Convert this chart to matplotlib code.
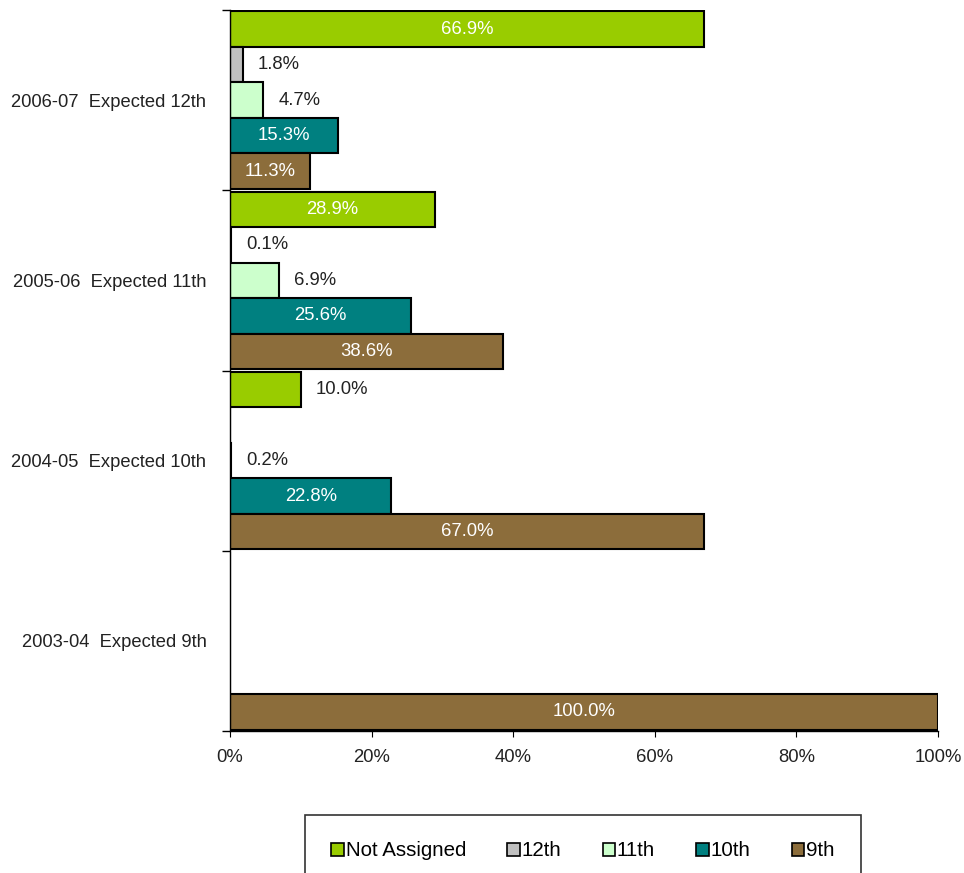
import matplotlib.pyplot as plt
import numpy as np
from matplotlib.patches import Patch
from matplotlib.ticker import FuncFormatter

plt.rcParams['font.family'] = ['Liberation Sans', 'DejaVu Sans']

categories = ['2003-04  Expected 9th', '2004-05  Expected 10th',
              '2005-06  Expected 11th', '2006-07  Expected 12th']
series_names = ['Not Assigned', '12th', '11th', '10th', '9th']
not_assigned = [0, 10.0, 28.9, 66.9]
g12 = [0, 0, 0.1, 1.8]
g11 = [0, 0.2, 6.9, 4.7]
g10 = [0, 22.8, 25.6, 15.3]
g9 = [100.0, 67.0, 38.6, 11.3]
colors = ['#99CC00', '#C0C0C0', '#CCFFCC', '#008080', '#8C6D3B']

series = [not_assigned, g12, g11, g10, g9]

fig = plt.figure(figsize=(9.64, 8.73), dpi=100)
ax = fig.add_axes([230/964, 1-731/873, 708/964, 721/873])

y = np.arange(len(categories))
h = 0.197
# top bar is Not Assigned, bottom is 9th
offsets = [2*h, h, 0, -h, -2*h]

for vals, name, col, off in zip(series, series_names, colors, offsets):
    bars = ax.barh(y + off, vals, height=h, color=col, edgecolor='black',
                   linewidth=1.5, label=name)
    for yy, v in zip(y + off, vals):
        if v == 0:
            continue
        if v > 10.5:
            ax.text(v/2, yy, '%.1f%%' % v, ha='center', va='center',
                    color='white', fontsize=13.3)
        else:
            ax.annotate('%.1f%%' % v, (v, yy), xytext=(11, 0),
                        textcoords='offset points', ha='left', va='center',
                        color='#222222', fontsize=13.3)

ax.set_xlim(0, 100)
ax.set_ylim(-0.5, 3.5)
ax.set_xticks(np.arange(0, 101, 20))
ax.xaxis.set_major_formatter(FuncFormatter(lambda v, p: '%d%%' % v))
ax.tick_params(axis='x', direction='out', length=4, pad=9, labelsize=13.3,
               labelcolor='#222222')

ax.set_yticks(np.arange(-0.5, 3.6, 1.0))
ax.set_yticklabels([])
ax.set_yticks(y, minor=True)
ax.set_yticklabels(categories, minor=True, fontsize=13.2, color='#222222')
ax.tick_params(axis='y', which='major', direction='out', length=6, width=1)
ax.tick_params(axis='y', which='minor', length=0, pad=17)

for s in ['top', 'right']:
    ax.spines[s].set_visible(False)
ax.spines['left'].set_linewidth(1)
ax.spines['bottom'].set_linewidth(1)

handles = [Patch(facecolor=c, edgecolor='black', linewidth=1.2) for c in colors]
leg = fig.legend(handles, series_names, loc='center',
                 bbox_to_anchor=(583/964, 1-851/873), ncol=5, frameon=True,
                 fontsize=14.8, handlelength=0.6, handleheight=0.6,
                 handletextpad=0.1, columnspacing=2.0, borderpad=1.3,
                 fancybox=False, borderaxespad=0)
leg.get_frame().set_edgecolor('black')
leg.get_frame().set_linewidth(1.2)

fig.savefig('out.png', dpi=100)
